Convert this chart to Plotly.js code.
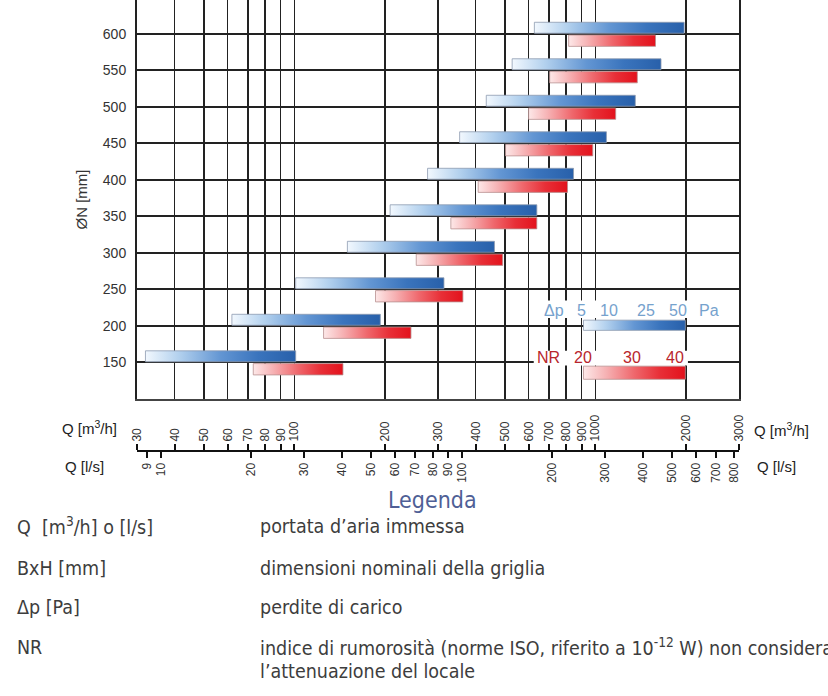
<!DOCTYPE html>
<html><head><meta charset="utf-8">
<script src="https://cdn.plot.ly/plotly-3.0.1.min.js"></script>
<style>body{margin:0;background:#fff}#chart{width:828px;height:696px}</style>
</head><body><div id="chart"></div>
<script>
// ---- data ----
const diameters = [150, 200, 250, 300, 350, 400, 450, 500, 550, 600];
const qDp5  = [32, 62, 101, 150, 208, 277, 354, 434, 529, 627];      // Q [m3/h] at Δp = 5 Pa
const qDp50 = [101, 193, 314, 462, 639, 846, 1088, 1357, 1652, 1972]; // Q [m3/h] at Δp = 50 Pa
const qNr20 = [73, 125, 186, 254, 331, 408, 503, 600, 705, 815];      // Q [m3/h] at NR 20
const qNr40 = [145, 244, 363, 492, 639, 808, 980, 1168, 1378, 1584];  // Q [m3/h] at NR 40
const gridQ = [30, 40, 50, 60, 70, 80, 90, 100, 200, 300, 400, 500, 600, 700, 800, 900, 1000, 2000, 3000];
const m3hTicks = [30, 40, 50, 60, 70, 80, 90, 100, 200, 300, 400, 500, 600, 700, 800, 900, 1000, 2000, 3000];
const lsTicks = [9, 10, 20, 30, 40, 50, 60, 70, 80, 90, 100, 200, 300, 400, 500, 600, 700, 800];
const dpLegendLabels = ['Δp', '5', '10', '25', '50', 'Pa'];
const dpLegendQ = [727, 900, 1111, 1476, 1884, 2388];
const nrLegendLabels = ['NR', '20', '30', '40'];
const nrLegendQ = [699, 912, 1320, 1837];
const legendBarQ = [913, 1990];
const legendTitle = 'Legenda';
const legendTerms = ['Q&nbsp;&nbsp;[m<sup>3</sup>/h] o [l/s]', 'BxH [mm]', 'Δp [Pa]', 'NR'];
const legendDescs = ['portata d’aria immessa', 'dimensioni nominali della griglia', 'perdite di carico',
  'indice di rumorosità (norme ISO, riferito a 10<sup>-12</sup> W) non considera', 'l’attenuazione del locale'];

// ---- styling ----
const LS = 3.6; // m3/h per l/s
const blueScale = [[0, '#f2f8fe'], [0.22, '#b3d1ee'], [0.5, '#6396d3'], [0.75, '#3a74bd'], [1, '#2860aa']];
const redScale = [[0, '#fde8e8'], [0.22, '#f6b2b4'], [0.5, '#ef676c'], [0.75, '#e82f37'], [1, '#e3121c']];
const fontMain = 'Liberation Sans, Arial, Helvetica, sans-serif';
const fontText = 'DejaVu Sans Condensed, Open Sans, sans-serif';

function rect(x0, x1, y0, y1) { return { x: [x0, x1, x1, x0, x0], y: [y0, y0, y1, y1, y0] }; }
function bar(x0, x1, y0, y1, scale, lc) {
  return Object.assign(rect(x0, x1, y0, y1), {
    type: 'scatter', mode: 'lines', fill: 'toself',
    fillgradient: { type: 'horizontal', colorscale: scale },
    line: { color: lc, width: 0.8 }, hoverinfo: 'skip', showlegend: false
  });
}
function whiteBox(x0, x1, y0, y1) {
  return Object.assign(rect(x0, x1, y0, y1), {
    type: 'scatter', mode: 'lines', fill: 'toself', fillcolor: '#ffffff',
    line: { width: 0 }, hoverinfo: 'skip', showlegend: false
  });
}

const traces = [];
// white backgrounds behind the inset legend text rows
traces.push(whiteBox(673, 2595, 211, 235));
traces.push(whiteBox(624, 2030, 146, 166));
diameters.forEach((d, i) => {
  traces.push(bar(qDp5[i], qDp50[i], d + 1, d + 16, blueScale, '#8d9bb0'));
  traces.push(bar(qNr20[i], qNr40[i], d - 17, d - 1.5, redScale, '#b89090'));
});
traces.push(bar(legendBarQ[0], legendBarQ[1], 194, 208, blueScale, '#8d9bb0'));
traces.push(bar(legendBarQ[0], legendBarQ[1], 127, 145, redScale, '#b89090'));
// carriers for the two flow scales
traces.push({ type: 'scatter', x: [], y: [], xaxis: 'x2', yaxis: 'y', showlegend: false, hoverinfo: 'skip' });
traces.push({ type: 'scatter', x: [], y: [], xaxis: 'x3', yaxis: 'y', showlegend: false, hoverinfo: 'skip' });

const PL = 137, PW = 602, PH = 500;
const px = v => (v - PL) / PW;
const py = v => (PH - v) / PH;
const axPos = py(451);

const annotations = [];
dpLegendLabels.forEach((t, i) => annotations.push({
  xref: 'x', yref: 'y', x: Math.log10(dpLegendQ[i]), y: 221, text: t, showarrow: false,
  font: { family: fontMain, size: 16, color: '#76a2cd' }
}));
nrLegendLabels.forEach((t, i) => annotations.push({
  xref: 'x', yref: 'y', x: Math.log10(nrLegendQ[i]), y: 157, text: t, showarrow: false,
  font: { family: fontMain, size: 16, color: '#b8262d' }
}));
// scale captions
[['Q [m<sup>3</sup>/h]', 60, 427, 'left'], ['Q [l/s]', 63, 467, 'left'],
 ['Q [m<sup>3</sup>/h]', 752, 429, 'left'], ['Q [l/s]', 755, 467, 'left']].forEach(a => annotations.push({
  xref: 'paper', yref: 'paper', x: px(a[1]), y: py(a[2]), xanchor: a[3], yanchor: 'middle',
  text: a[0], showarrow: false, font: { family: fontMain, size: 15, color: '#222' }
}));
// text legend
annotations.push({ xref: 'paper', yref: 'paper', x: px(432), y: py(500), xanchor: 'center', yanchor: 'middle',
  text: legendTitle, showarrow: false, font: { family: fontText, size: 23, color: '#4f5f96' } });
const rowY = [526, 568, 607, 647, 672];
legendTerms.forEach((t, i) => annotations.push({ xref: 'paper', yref: 'paper', x: px(15), y: py(rowY[i]),
  xanchor: 'left', yanchor: 'middle', text: t, showarrow: false, font: { family: fontText, size: 19.5, color: '#3d3d3d' } }));
legendDescs.forEach((t, i) => annotations.push({ xref: 'paper', yref: 'paper', x: px(258), y: py(rowY[i]),
  xanchor: 'left', yanchor: 'middle', text: t, showarrow: false, font: { family: fontText, size: 19.5, color: '#3d3d3d' } }));

const layout = {
  width: 828, height: 696,
  margin: { l: PL, r: 828 - PL - PW, t: 0, b: 696 - PH },
  paper_bgcolor: '#ffffff', plot_bgcolor: '#ffffff',
  showlegend: false, hovermode: false,
  xaxis: {
    type: 'log', range: [Math.log10(30), Math.log10(3000)], tickvals: gridQ, showticklabels: false,
    ticks: '', showgrid: true, gridcolor: '#222', gridwidth: 1.6, zeroline: false,
    showline: true, linecolor: '#444', linewidth: 2, anchor: 'y'
  },
  yaxis: {
    domain: [py(399), 1], range: [100, 646.5], tickvals: diameters, showgrid: true,
    gridcolor: '#222', gridwidth: 2, zeroline: false, showline: true, mirror: true,
    linecolor: '#222', linewidth: 2, ticks: '', ticklabelstandoff: 6,
    tickfont: { family: fontMain, size: 14, color: '#333' },
    title: { text: 'ØN [mm]', font: { family: fontMain, size: 15, color: '#333' }, standoff: 12 }
  },
  xaxis2: {
    type: 'log', overlaying: 'x', anchor: 'free', position: axPos, side: 'top',
    range: [Math.log10(30), Math.log10(3000)], tickvals: m3hTicks, ticktext: m3hTicks.map(String),
    ticks: 'outside', ticklen: 6, tickwidth: 2, tickcolor: '#111', showline: true, linecolor: '#111',
    linewidth: 2, showgrid: false, zeroline: false, tickangle: -90,
    tickfont: { family: fontMain, size: 12, color: '#333' }
  },
  xaxis3: {
    type: 'log', overlaying: 'x', anchor: 'free', position: axPos, side: 'bottom',
    range: [Math.log10(30 / LS), Math.log10(3000 / LS)], tickvals: lsTicks, ticktext: lsTicks.map(String),
    ticks: 'outside', ticklen: 6, tickwidth: 2, tickcolor: '#111', showline: false,
    showgrid: false, zeroline: false, tickangle: -90,
    tickfont: { family: fontMain, size: 12, color: '#333' }
  },
  annotations: annotations
};

Plotly.newPlot('chart', traces, layout, { staticPlot: true, displayModeBar: false });
</script>
</body></html>
